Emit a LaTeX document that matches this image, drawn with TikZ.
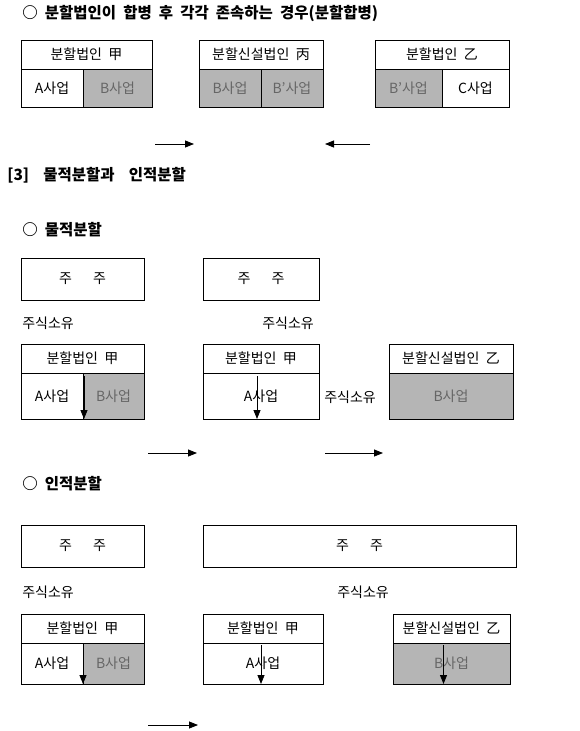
\documentclass[tikz,border=0pt]{standalone}
\usepackage{fontspec}
\setmainfont{Noto Sans CJK KR}[WordSpace=2]
\usetikzlibrary{arrows.meta,positioning}
\definecolor{cellgray}{gray}{0.71}

\begin{document}
\begin{tikzpicture}[x=1pt, y=-1pt,
  font=\fontsize{14}{16}\selectfont,
  line width=0.7pt,
  head/.style={draw, anchor=north west, outer sep=0pt, inner sep=0pt, minimum height=29pt},
  cell/.style={draw, anchor=north west, outer sep=0pt, inner sep=0pt},
  gcell/.style={cell, fill=cellgray, text=black!60},
  owner/.style={draw, anchor=north west, outer sep=0pt, inner sep=0pt, minimum height=42pt},
  ttl/.style={anchor=west, inner sep=0pt, font=\fontsize{15.5}{17}\selectfont\bfseries},
  lbl/.style={anchor=west, inner sep=0pt},
  arr/.style={-{Triangle[length=9pt,width=7pt]}, line width=0.8pt}
]
\useasboundingbox (0,0) rectangle (580,731);

% 분할합병
\node[ttl] (t1) at (22,14) {○ 분할법인이 합병 후 각각 존속하는 경우(분할합병)};
\node[head, minimum width=131pt] (h1) at (21,40) {분할법인 甲};
\node[cell, minimum width=62pt, minimum height=38pt] (a1) at (h1.south west) {A사업};
\node[gcell, minimum width=69pt, minimum height=38pt] (b1) at (a1.north east) {B사업};
\node[head, minimum width=124pt] (h2) at (199,40) {분할신설법인 丙};
\node[gcell, minimum width=62pt, minimum height=38pt] (a2) at (h2.south west) {B사업};
\node[gcell, minimum width=62pt, minimum height=38pt] (b2) at (a2.north east) {B'사업};
\node[head, minimum width=134pt] (h3) at (375,40) {분할법인 乙};
\node[gcell, minimum width=67pt, minimum height=38pt] (a3) at (h3.south west) {B'사업};
\node[cell, minimum width=67pt, minimum height=38pt] (b3) at (a3.north east) {C사업};
\coordinate (p1) at (155,144);
\coordinate (q1) at (194,144);
\coordinate (p2) at (370,144);
\coordinate (q2) at (325,144);
\draw[arr] (p1) -- (q1);
\draw[arr] (p2) -- (q2);

\node[ttl] (t2) at (7,175) {[3]\ \ 물적분할과\ \ 인적분할};

% 물적분할
\node[ttl] (t3) at (22,230) {○ 물적분할};
\node[owner, minimum width=123pt] (s1) at (21,258) {주\hspace{1.5em}주};
\node[owner, minimum width=116pt] (s2) at (203,258) {주\hspace{1.5em}주};
\node[lbl] (o1) at (22,323) {주식소유};
\node[lbl] (o2) at (262,323) {주식소유};
\node[head, minimum width=123pt] (h4) at (21,344) {분할법인 甲};
\node[cell, minimum width=62pt, minimum height=46pt] (a4) at (h4.south west) {A사업};
\node[gcell, minimum width=61pt, minimum height=46pt] (b4) at (a4.north east) {B사업};
\node[head, minimum width=116pt] (h5) at (203,344) {분할법인 甲};
\node[cell, minimum width=116pt, minimum height=46pt] (a5) at (h5.south west) {A사업};
\node[head, minimum width=124pt] (h6) at (389,344) {분할신설법인 乙};
\node[gcell, minimum width=124pt, minimum height=46pt] (a6) at (h6.south west) {B사업};
\node[lbl] (o3) at (324,397) {주식소유};
\draw[arr] ([xshift=1pt, yshift=-3pt]a4.north east) -- ([xshift=1pt]a4.south east);
\draw[arr] ([xshift=-4pt, yshift=-3pt]a5.north) -- ([xshift=-4pt]a5.south);
\coordinate (p3) at (148,453);
\coordinate (q3) at (197,453);
\coordinate (p4) at (325,453);
\coordinate (q4) at (383,453);
\draw[arr] (p3) -- (q3);
\draw[arr] (p4) -- (q4);

% 인적분할
\node[ttl] (t4) at (22,484) {○ 인적분할};
\node[owner, minimum width=123pt] (s3) at (21,525) {주\hspace{1.5em}주};
\node[owner, minimum width=313pt] (s4) at (203,525) {주\hspace{1.5em}주};
\node[lbl] (o4) at (22,592) {주식소유};
\node[lbl] (o5) at (337,592) {주식소유};
\node[head, minimum width=123pt] (h7) at (21,614) {분할법인 甲};
\node[cell, minimum width=62pt, minimum height=41pt] (a7) at (h7.south west) {A사업};
\node[gcell, minimum width=61pt, minimum height=41pt] (b7) at (a7.north east) {B사업};
\node[head, minimum width=120pt] (h8) at (203,614) {분할법인 甲};
\node[cell, minimum width=120pt, minimum height=41pt] (a8) at (h8.south west) {A사업};
\node[head, minimum width=117pt] (h9) at (393,614) {분할신설법인 乙};
\node[gcell, minimum width=117pt, minimum height=41pt] (a9) at (h9.south west) {B사업};
\draw[arr] ([yshift=-2pt]a7.north east) -- (a7.south east);
\draw[arr] ([xshift=-2pt, yshift=-2pt]a8.north) -- ([xshift=-2pt]a8.south);
\draw[arr] ([xshift=-8pt, yshift=-2pt]a9.north) -- ([xshift=-8pt]a9.south);
\coordinate (p5) at (148,725);
\coordinate (q5) at (198,725);
\draw[arr] (p5) -- (q5);
\end{tikzpicture}
\end{document}
